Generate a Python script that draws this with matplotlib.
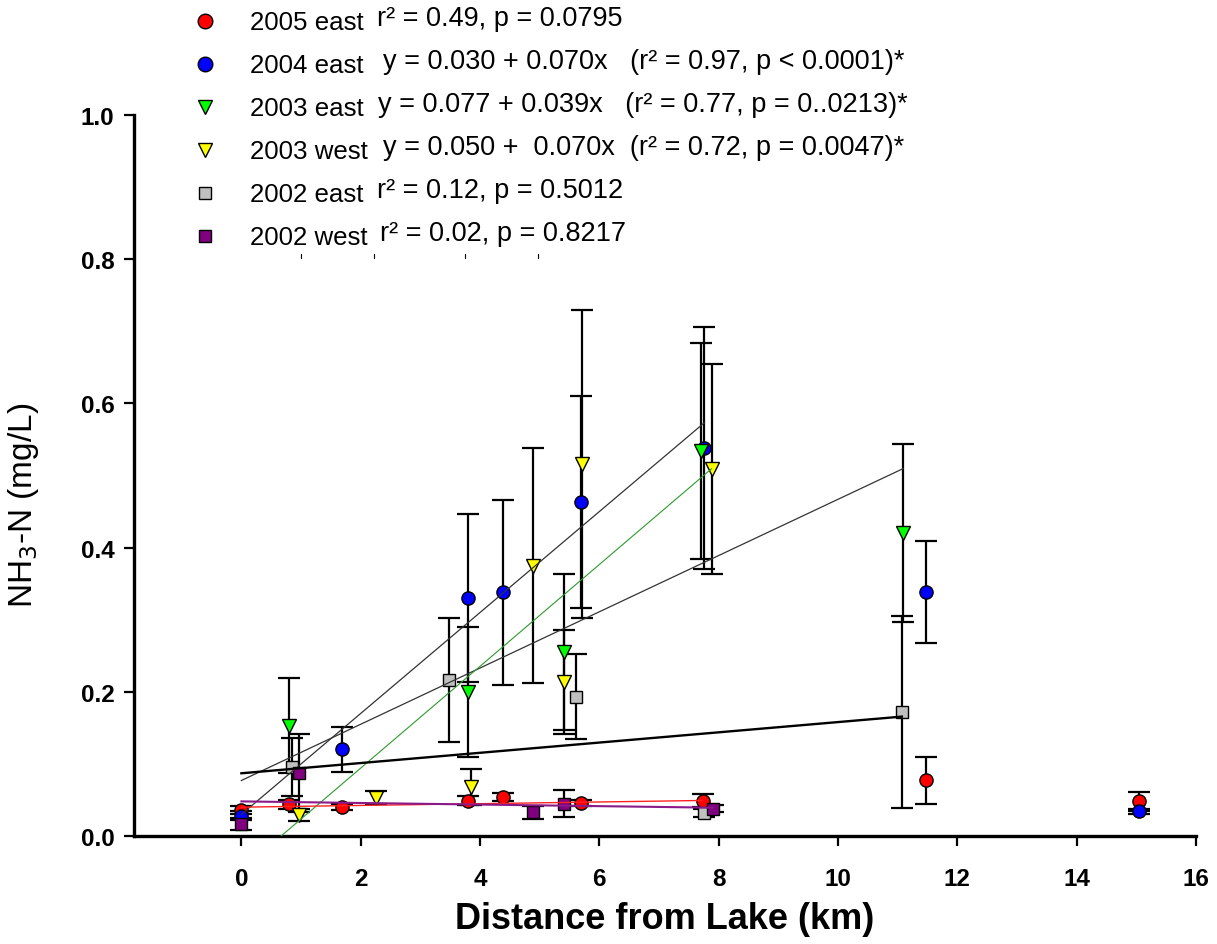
import matplotlib
matplotlib.use("Agg")
import matplotlib.pyplot as plt
from matplotlib.lines import Line2D
import numpy as np

plt.rcParams['font.family'] = ['Liberation Sans', 'DejaVu Sans']

# ---------------- data ----------------
x_2005e = [0.0, 0.79, 1.69, 3.79, 4.39, 5.69, 7.73, 11.47, 15.04]
y_2005e = [0.036, 0.044, 0.040, 0.049, 0.054, 0.046, 0.049, 0.077, 0.048]
e_2005e = [0.006, 0.006, 0.004, 0.006, 0.006, 0.004, 0.009, 0.033, 0.013]

x_2004e = [0.0, 1.69, 3.79, 4.39, 5.69, 7.76, 11.47, 15.04]
y_2004e = [0.028, 0.120, 0.330, 0.338, 0.463, 0.538, 0.338, 0.034]
e_2004e = [0.006, 0.031, 0.117, 0.128, 0.147, 0.168, 0.071, 0.004]

x_2003e = [0.80, 3.79, 5.41, 7.70, 11.09]
y_2003e = [0.153, 0.200, 0.255, 0.534, 0.420]
e_2003e = [0.066, 0.090, 0.108, 0.150, 0.123]

x_2003w = [0.96, 2.25, 3.85, 4.89, 5.40, 5.71, 7.88]
y_2003w = [0.029, 0.053, 0.068, 0.375, 0.214, 0.516, 0.509]
e_2003w = [0.008, 0.009, 0.025, 0.163, 0.072, 0.213, 0.145]

x_2002e = [0.85, 3.48, 5.60, 7.75, 11.07]
y_2002e = [0.096, 0.216, 0.193, 0.032, 0.172]
e_2002e = [0.040, 0.086, 0.059, 0.006, 0.133]

x_2002w = [0.0, 0.96, 4.89, 5.40, 7.90]
y_2002w = [0.017, 0.087, 0.033, 0.045, 0.038]
e_2002w = [0.008, 0.054, 0.009, 0.019, 0.005]

# regression lines as drawn: intercept, slope, x-range
fit_2004e = (0.030, 0.070, 0.0, 7.76)
fit_2003e = (0.077, 0.039, 0.0, 11.09)
fit_2003w = (-0.047, 0.0706, 0.0, 7.88)
fit_2002e = (0.087, 0.0071, 0.0, 11.07)
fit_2005e = (0.040, 0.0012, 0.0, 7.73)
fit_2002w = (0.048, -0.0011, 0.0, 7.90)

legend_names = ["2005 east", "2004 east", "2003 east", "2003 west", "2002 east", "2002 west"]
legend_stats = ["r\u00b2 = 0.49, p = 0.0795",
                "y = 0.030 + 0.070x   (r\u00b2 = 0.97, p < 0.0001)*",
                "y = 0.077 + 0.039x   (r\u00b2 = 0.77, p = 0..0213)*",
                "y = 0.050 +  0.070x  (r\u00b2 = 0.72, p = 0.0047)*",
                "r\u00b2 = 0.12, p = 0.5012",
                "r\u00b2 = 0.02, p = 0.8217"]

xticks = [0, 2, 4, 6, 8, 10, 12, 14, 16]
yticks = [0.0, 0.2, 0.4, 0.6, 0.8, 1.0]

# ---------------- figure ----------------
W, H = 1217, 945
fig = plt.figure(figsize=(W / 100, H / 100), dpi=100)
ax = fig.add_axes([134 / W, 1 - 837 / H, (1196 - 134) / W, (837 - 116) / H])

series = [
    (x_2005e, y_2005e, e_2005e, 'o', '#ff0000', 9.5),
    (x_2004e, y_2004e, e_2004e, 'o', '#0000ff', 9.5),
    (x_2003e, y_2003e, e_2003e, 'v', '#00ff00', 10.5),
    (x_2003w, y_2003w, e_2003w, 'v', '#ffff00', 10.5),
    (x_2002e, y_2002e, e_2002e, 's', '#c0c0c0', 8.3),
    (x_2002w, y_2002w, e_2002w, 's', '#800080', 8.3),
]

for xs, ys, es, mk, col, ms in series:
    ax.errorbar(xs, ys, yerr=es, fmt='none', ecolor='black', elinewidth=1.6,
                capsize=8, capthick=1.6, zorder=2, clip_on=False)
for xs, ys, es, mk, col, ms in series:
    ax.plot(xs, ys, linestyle='none', marker=mk, markersize=ms, markerfacecolor=col,
            markeredgecolor='black', markeredgewidth=1.0, zorder=3, clip_on=False)

fits = [
    (fit_2004e, '#333333', 0.9),
    (fit_2003e, '#333333', 0.9),
    (fit_2003w, '#2e9a2e', 0.8),
    (fit_2002e, '#000000', 1.7),
    (fit_2005e, '#ff2020', 1.0),
    (fit_2002w, '#8a1a8a', 1.5),
]
for (b0, b1, xa, xb), col, lw in fits:
    xx = np.array([xa, xb])
    ax.plot(xx, b0 + b1 * xx, color=col, linewidth=lw, zorder=4)

ax.set_xlim(-1.8, 16)
ax.set_ylim(0.0, 1.0)
ax.set_xticks(xticks)
ax.set_xticklabels([str(t) for t in xticks])
ax.set_yticks(yticks)
ax.set_yticklabels([f"{t:.1f}" for t in yticks])

for s in ['top', 'right']:
    ax.spines[s].set_visible(False)
for s in ['left', 'bottom']:
    ax.spines[s].set_linewidth(2.4)
    ax.spines[s].set_color('black')

ax.tick_params(axis='both', direction='out', length=7, width=1.6, colors='black')
ax.tick_params(axis='x', pad=15)
ax.tick_params(axis='y', pad=7)
for lab in ax.get_xticklabels() + ax.get_yticklabels():
    lab.set_fontsize(17.5)
    lab.set_fontweight('bold')

ax.set_xlabel("Distance from Lake (km)", fontsize=26, fontweight='bold', labelpad=8)
ax.set_ylabel("NH$_3$-N (mg/L)", fontsize=24)
ax.yaxis.set_label_coords(-0.088, 0.46)

# ---------------- legend (manual, top) ----------------
row_y = [22, 65, 108, 151, 194, 237]
stat_x = [377, 383, 378, 383, 377, 380]
mk_list = ['o', 'o', 'v', 'v', 's', 's']
col_list = ['#ff0000', '#0000ff', '#00ff00', '#ffff00', '#c0c0c0', '#800080']
for i in range(6):
    yy = 1 - row_y[i] / H
    fig.add_artist(Line2D([205 / W], [yy], marker=mk_list[i], markersize=10.5 if mk_list[i] != 's' else 9,
                          markerfacecolor=col_list[i], markeredgecolor='black',
                          markeredgewidth=1.0, linestyle='none', transform=fig.transFigure))
    fig.text(250 / W, yy - 1 / H, legend_names[i], fontsize=18.6, va='center', ha='left')
    fig.text(stat_x[i] / W, yy + 3 / H, legend_stats[i], fontsize=19.5, va='center', ha='left')

# small stray marks under the legend
for mx in [301, 374, 465, 538]:
    fig.add_artist(Line2D([mx / W, mx / W], [1 - 255 / H, 1 - 259 / H], color='black',
                          linewidth=0.8, transform=fig.transFigure))

fig.savefig("out.png", dpi=100)
